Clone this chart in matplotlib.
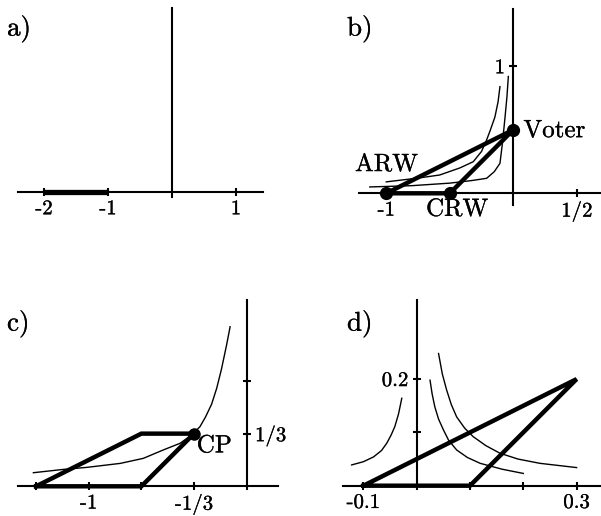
import numpy as np
import matplotlib
matplotlib.use("Agg")
import matplotlib.pyplot as plt
import matplotlib.patheffects as pe

plt.rcParams['font.family'] = ['cmr10', 'DejaVu Serif']
plt.rcParams['axes.unicode_minus'] = False

W, H = 601, 516

# a) thick interval on the axis
a_seg_x = [-2, -1]
a_xticks = [-2, -1, 1]
a_xlabels = ['-2', '-1', '1']

# b) Voter / ARW / CRW
b_tri_x = [-1, 0, -0.5, -1]
b_tri_y = [0, 0.5, 0, 0]
b_dots_x = [-1, -0.5, 0]
b_dots_y = [0, 0, 0.5]
b_curve1_x = [-1.0, -0.75, -0.58, -0.42, -0.315, -0.25, -0.21, -0.18, -0.145, -0.12, -0.105]
b_curve1_y = [0.09, 0.12, 0.144, 0.2, 0.249, 0.33, 0.42, 0.5, 0.6, 0.72, 0.84]
b_curve2_x = [-1.13, -0.8, -0.5, -0.33, -0.21, -0.15, -0.105, -0.085, -0.065, -0.05, -0.039]
b_curve2_y = [0.05, 0.06, 0.08, 0.1, 0.118, 0.17, 0.236, 0.4, 0.6, 0.76, 0.92]
b_xticks = [-1, -0.5, 0.5]
b_xlabels = ['-1', '', '1/2']
b_yticks = [1]
b_ylabels = ['1']

# c) CP
c_par_x = [-4/3, -2/3, -1/3, -2/3, -4/3]
c_par_y = [0, 1/3, 1/3, 0, 0]
c_curve_x = [-1.35, -1.16, -1.01, -0.80, -0.654, -0.528, -0.422, -0.348, -0.296,
             -0.26, -0.222, -0.19, -0.16, -0.127, -0.105]
c_curve_y = [0.086, 0.107, 0.12, 0.145, 0.177, 0.23, 0.272, 0.325, 0.377,
             0.44, 0.52, 0.62, 0.74, 0.896, 1.01]
c_xticks = [-4/3, -1, -2/3, -1/3]
c_xlabels = ['', '-1', '', '-1/3']
c_yticks = [1/3, 2/3]
c_ylabels = ['1/3', '']

# d)
d_tri_x = [-0.1, 0.3, 0.1, -0.1]
d_tri_y = [0, 0.2, 0, 0]
d_curve1_x = [-0.122, -0.1, -0.081, -0.066, -0.056, -0.048, -0.041, -0.034, -0.028]
d_curve1_y = [0.039, 0.045, 0.054, 0.066, 0.08, 0.095, 0.111, 0.135, 0.164]
d_curve2_x = [0.025, 0.029, 0.034, 0.041, 0.05, 0.06, 0.075, 0.095, 0.119, 0.16, 0.2]
d_curve2_y = [0.198, 0.172, 0.148, 0.125, 0.105, 0.085, 0.067, 0.053, 0.042, 0.031, 0.023]
d_curve3_x = [0.041, 0.048, 0.056, 0.065, 0.075, 0.09, 0.106, 0.13, 0.156, 0.19, 0.231, 0.3]
d_curve3_y = [0.248, 0.21, 0.18, 0.152, 0.129, 0.108, 0.092, 0.075, 0.061, 0.05, 0.042, 0.034]
d_xticks = [-0.1, 0.1, 0.2, 0.3]
d_xlabels = ['-0.1', '', '', '0.3']
d_yticks = [0.1, 0.2]
d_ylabels = ['', '0.2']

fig = plt.figure(figsize=(W / 100, H / 100), dpi=100)

THICK = 3.2
THIN = 1.0
AXLW = 1.5
TICKFS = 15
LABFS = 18
PANFS = 19.5
# scanned print looks a little heavier than the plain font
BOLDEN = [pe.withStroke(linewidth=0.2, foreground='black')]


def make_axes(ox, oy, s, xlim, ylim, ybounds, yside='left'):
    """axes placed so that data (0,0) sits at pixel (ox, oy), s px per unit"""
    left = ox + xlim[0] * s
    right = ox + xlim[1] * s
    top = oy - ylim[1] * s
    bottom = oy - ylim[0] * s
    ax = fig.add_axes([left / W, 1 - bottom / H, (right - left) / W, (bottom - top) / H])
    ax.set_xlim(xlim)
    ax.set_ylim(ylim)
    ax.patch.set_visible(False)
    other = 'right' if yside == 'left' else 'left'
    for sp in ['top', other]:
        ax.spines[sp].set_visible(False)
    ax.spines['bottom'].set_position(('data', 0))
    ax.spines[yside].set_position(('data', 0))
    ax.spines[yside].set_bounds(*ybounds)
    for sp in ['bottom', yside]:
        ax.spines[sp].set_linewidth(AXLW)
    if yside == 'right':
        ax.yaxis.tick_right()
    ax.tick_params(direction='inout', length=6, width=1.5, labelsize=TICKFS, pad=3)
    return ax


def finish_labels(ax):
    for lab in ax.get_xticklabels() + ax.get_yticklabels():
        lab.set_path_effects(BOLDEN)


# a)
ax = make_axes(172, 192, 64, (-2.406, 1.422), (-0.6, 2.875), (-0.08, 2.875))
ax.plot(a_seg_x, [0, 0], color='black', lw=3.8, solid_capstyle='butt')
ax.set_xticks(a_xticks, a_xlabels)
ax.set_yticks([])
finish_labels(ax)
fig.text(7 / W, 1 - 29 / H, 'a)', fontsize=PANFS, va='center', ha='left', path_effects=BOLDEN)

# b)
ax = make_axes(513.3, 193.3, 127, (-1.215, 0.69), (-0.9, 1.45), (-0.09, 1.45))
ax.plot(b_curve1_x, b_curve1_y, color='black', lw=THIN)
ax.plot(b_curve2_x, b_curve2_y, color='black', lw=THIN)
ax.plot(b_tri_x, b_tri_y, color='black', lw=THICK, solid_joinstyle='miter')
ax.plot(b_dots_x, b_dots_y, 'o', color='black', markersize=8.5)
ax.set_xticks(b_xticks, b_xlabels)
ax.set_yticks(b_yticks, b_ylabels)
finish_labels(ax)
ax.text(0.08, 0.49, 'Voter', fontsize=LABFS, va='center', ha='left', path_effects=BOLDEN)
ax.text(-1.246, 0.223, 'ARW', fontsize=LABFS, va='center', ha='left', path_effects=BOLDEN)
ax.text(-0.687, -0.13, 'CRW', fontsize=LABFS, va='center', ha='left', path_effects=BOLDEN)
fig.text(347 / W, 1 - 29 / H, 'b)', fontsize=PANFS, va='center', ha='left', path_effects=BOLDEN)

# c)
ax = make_axes(246.7, 486.3, 158, (-1.447, 0.198), (-0.6, 1.18), (-0.02, 1.18), yside='right')
ax.plot(c_curve_x, c_curve_y, color='black', lw=THIN)
ax.plot(c_par_x, c_par_y, color='black', lw=THICK, solid_joinstyle='miter')
ax.plot([-1/3], [1/3], 'o', color='black', markersize=8)
ax.set_xticks(c_xticks, c_xlabels)
ax.set_yticks(c_yticks, c_ylabels)
finish_labels(ax)
ax.text(-0.316, 0.253, 'CP', fontsize=LABFS, va='center', ha='left', path_effects=BOLDEN)
fig.text(7 / W, 1 - 324 / H, 'c)', fontsize=PANFS, va='center', ha='left', path_effects=BOLDEN)

# d)
ax = make_axes(416.7, 485.7, 533, (-0.138, 0.345), (-0.18, 0.349), (-0.006, 0.349))
for cx, cy in [(d_curve1_x, d_curve1_y), (d_curve2_x, d_curve2_y), (d_curve3_x, d_curve3_y)]:
    ax.plot(cx, cy, color='black', lw=THIN)
ax.plot(d_tri_x, d_tri_y, color='black', lw=THICK, solid_joinstyle='miter')
ax.set_xticks(d_xticks, d_xlabels)
ax.set_yticks(d_yticks, d_ylabels)
finish_labels(ax)
fig.text(347 / W, 1 - 324 / H, 'd)', fontsize=PANFS, va='center', ha='left', path_effects=BOLDEN)

fig.savefig('out.png', dpi=100)
